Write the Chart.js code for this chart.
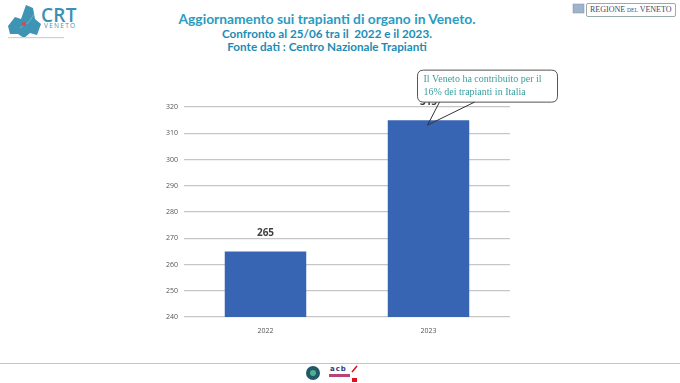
<!DOCTYPE html>
<html><head><meta charset="utf-8">
<script src="https://cdn.jsdelivr.net/npm/chart.js@4.4.1/dist/chart.umd.min.js"></script>
<style>
html,body{margin:0;padding:0;background:#fff;width:680px;height:383px;overflow:hidden;position:relative;font-family:"Open Sans",sans-serif}
#wrap{position:absolute;left:0;top:0;width:680px;height:383px}
.t{position:absolute;left:-13px;width:680px;text-align:center;font-family:Lato,"Open Sans",sans-serif;color:#2a9cc0;white-space:pre}
#t1{top:10px;font-size:13.8px;font-weight:bold}
#t2{top:25.5px;font-size:11.7px;font-weight:bold;color:#1c8cb4}
#t3{top:39px;font-size:11.7px;font-weight:bold;color:#1c8cb4}
#foot{position:absolute;left:0;top:363px;width:680px;height:0;border-top:1.5px solid #c4c4c4}
#crt{position:absolute;left:41px;top:2px;font-family:"Open Sans",sans-serif;color:#3b90b4;font-size:19px;font-weight:600;letter-spacing:0.3px}
#ven{position:absolute;left:44px;top:21px;font-family:"Open Sans",sans-serif;color:#3b90b4;font-size:6.5px;letter-spacing:1.3px}
#reg{position:absolute;left:586px;top:3px;height:12px;border:1px solid #9aa;border-radius:2px;padding:0 3px;font-family:"Liberation Serif",serif;font-size:8px;line-height:12px;color:#3b4a6b;white-space:nowrap}
#acb{position:absolute;left:330px;top:365px;font-family:"DejaVu Sans",sans-serif;font-size:7px;font-weight:bold;color:#333a7a;letter-spacing:1px}
</style></head>
<body>
<div id="wrap">
<svg width="680" height="383" style="position:absolute;left:0;top:0">
  <path d="M8,26 L15,17 L21,19 L26,5 L33,8 L35,19 L41,24 L37,35 L30,33 L24,38 L18,34 L10,34 Z" fill="#3f93b3"/>
  <path d="M20,28 L29,22 L34,14" stroke="#8cc8dc" stroke-width="0.6" fill="none"/>
  <circle cx="24" cy="24" r="2" fill="#e8404a"/>
  <rect x="8" y="37" width="56" height="1.2" fill="#c8d4da"/>
  <rect x="573" y="4" width="11" height="9" fill="#9cb4cc" stroke="#88a" stroke-width="0.5"/>
  <circle cx="313" cy="373" r="7" fill="#1f5a66"/>
  <circle cx="313" cy="373" r="3" fill="#8fb" opacity="0.5"/>
  <rect x="329" y="374" width="21" height="3" fill="#b8437a"/>
  <rect x="352" y="378" width="5" height="4" fill="#e01020"/>
  <path d="M352,372 L357,366" stroke="#e01020" stroke-width="1.5"/>
</svg>
<div id="crt">CRT</div>
<div id="ven">VENETO</div>
<div id="reg">REGIONE <span style="font-size:5.5px">DEL</span> VENETO</div>
<div id="acb">acb</div>
<div class="t" id="t1">Aggiornamento sui trapianti di organo in Veneto.</div>
<div class="t" id="t2">Confronto al 25/06 tra il  2022 e il 2023.</div>
<div class="t" id="t3">Fonte dati : Centro Nazionale Trapianti</div>
<div id="foot"></div>
<canvas id="c" width="680" height="383" style="position:absolute;left:0;top:0"></canvas>
</div>
<script>
const categories = ["2022", "2023"];
const values = [265, 315];
const yTicks = [240, 250, 260, 270, 280, 290, 300, 310, 320];
const calloutLines = ["Il Veneto ha contribuito per il", "16% dei trapianti in Italia"];

const labelPlugin = {
  id: 'labels',
  afterDatasetsDraw(chart) {
    const ctx = chart.ctx;
    const meta = chart.getDatasetMeta(0);
    ctx.save();
    ctx.font = 'bold 10px "Open Sans", sans-serif';
    ctx.fillStyle = '#404040';
    ctx.textAlign = 'center';
    ctx.textBaseline = 'middle';
    meta.data.forEach((bar, i) => {
      ctx.fillText(String(values[i]), bar.x, bar.y - 18);
    });
    // callout anchored to the 2023 bar
    const b = meta.data[1];
    const tipX = b.x - 1, tipY = b.y + 5;
    const bx = b.x - 11, by = b.y - 50, bw = 140, bh = 32, r = 6;
    ctx.beginPath();
    ctx.moveTo(bx + r, by);
    ctx.lineTo(bx + bw - r, by);
    ctx.quadraticCurveTo(bx + bw, by, bx + bw, by + r);
    ctx.lineTo(bx + bw, by + bh - r);
    ctx.quadraticCurveTo(bx + bw, by + bh, bx + bw - r, by + bh);
    ctx.lineTo(bx + r, by + bh);
    ctx.quadraticCurveTo(bx, by + bh, bx, by + bh - r);
    ctx.lineTo(bx, by + r);
    ctx.quadraticCurveTo(bx, by, bx + r, by);
    ctx.closePath();
    ctx.fillStyle = '#ffffff';
    ctx.fill();
    ctx.strokeStyle = '#555555';
    ctx.lineWidth = 1;
    ctx.stroke();
    ctx.beginPath();
    ctx.moveTo(bx + 22, by + bh);
    ctx.lineTo(tipX, tipY);
    ctx.lineTo(bx + 57, by + bh);
    ctx.strokeStyle = '#333333';
    ctx.stroke();
    ctx.font = '10px "Liberation Serif", serif';
    ctx.fillStyle = '#3a9e9e';
    ctx.textAlign = 'left';
    ctx.textBaseline = 'middle';
    ctx.fillText(calloutLines[0], bx + 6, by + 9);
    ctx.fillText(calloutLines[1], bx + 6, by + 22);
    ctx.restore();
  }
};

new Chart(document.getElementById('c'), {
  type: 'bar',
  data: {
    labels: categories,
    datasets: [{
      data: values,
      backgroundColor: '#3864b4',
      borderWidth: 0,
      barPercentage: 0.5,
      categoryPercentage: 1.0
    }]
  },
  options: {
    responsive: false,
    animation: false,
    layout: { padding: { left: 156, right: 170, top: 107, bottom: 46 } },
    plugins: { legend: { display: false }, tooltip: { enabled: false } },
    scales: {
      x: {
        grid: { display: false },
        border: { display: false },
        ticks: { color: '#555', font: { size: 7, family: '"Open Sans", sans-serif' }, padding: 2 },
        afterFit(s) { s.height = 20; }
      },
      y: {
        min: 240, max: 320,
        afterBuildTicks(s) { s.ticks = yTicks.map(v => ({ value: v })); },
        grid: { color: '#c6c6c6', lineWidth: 1.3, drawTicks: false },
        border: { display: false },
        ticks: { color: '#555', font: { size: 7, family: '"Open Sans", sans-serif' }, padding: 6 },
        afterFit(s) { s.width = 28; }
      }
    }
  },
  plugins: [labelPlugin]
});
</script>
</body></html>
